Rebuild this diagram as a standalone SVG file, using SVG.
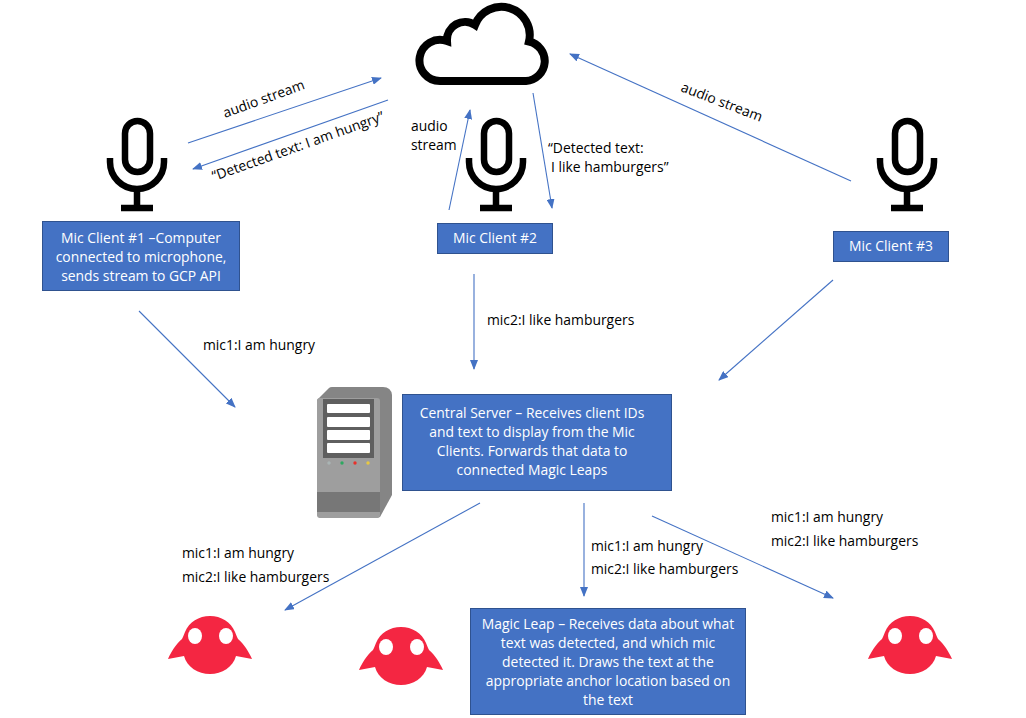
<svg xmlns="http://www.w3.org/2000/svg" xmlns:xlink="http://www.w3.org/1999/xlink" width="1026" height="718" viewBox="0 0 1026 718">
<style>
text{font-family:"Open Sans","Noto Sans","Liberation Sans",sans-serif;font-size:13.9px;fill:#000}
.w text,text.w{fill:#fff;text-anchor:middle}
.box{fill:#4472C4;stroke:#2F528F;stroke-width:1}
.c line{stroke:#4472C4;stroke-width:1.1;marker-end:url(#a)}
.mic path{fill:none;stroke:#000;stroke-width:6.500}
.robot{fill:#F42642}
.eye{fill:#fff}
</style>
<defs>
<marker id="a" markerUnits="userSpaceOnUse" markerWidth="10" markerHeight="8" refX="9" refY="4" orient="auto"><path d="M0 0L10 4L0 8Z" fill="#4472C4"/></marker>
<g id="micG" class="mic"><rect x="125" y="121" width="25" height="51" rx="12.5" fill="none" stroke="#000" stroke-width="6.500"/><path d="M110 158v4a27 27 0 0 0 54 0v-4M137 189v19M121 208h32"/></g>
<g id="robotG"><path class="robot" d="M210 616c11 0 21 6 25 16c2 5 3 7 3 7c6 5 11 13 14 20l-16 -3c-3 11-14 18-26 18s-23-7-26-18l-16 3c3-7 8-15 14-20c0 0 1-2 3-7c4-10 14-16 25-16Z"/><ellipse class="eye" cx="195" cy="636" rx="7" ry="8"/><ellipse class="eye" cx="226" cy="636" rx="7" ry="8"/></g>
</defs>
<rect width="1026" height="718" fill="#fff"/>
<g id="connectors" class="c">
<line x1="188" y1="143" x2="381" y2="78"/>
<line x1="388" y1="100" x2="193" y2="169"/>
<line x1="449" y1="210" x2="470" y2="110"/>
<line x1="533" y1="93" x2="552" y2="208"/>
<line x1="851" y1="181" x2="570" y2="54"/>
<line x1="139" y1="311" x2="235" y2="407"/>
<line x1="474" y1="274" x2="474" y2="369"/>
<line x1="833" y1="280" x2="719" y2="380"/>
<line x1="480" y1="503" x2="285" y2="610"/>
<line x1="584" y1="503" x2="584" y2="596"/>
<line x1="652" y1="516" x2="833" y2="598"/>
</g>
<g id="cloud"><path d="M440 81H526A20 20 0 0 0 529 41.500A28.300 28.300 0 0 0 475 25A18 18 0 0 0 447 41A20.600 20.600 0 1 0 440 81Z" fill="none" stroke="#000" stroke-width="8" stroke-linejoin="miter"/></g>
<g id="mic1-icon"><use xlink:href="#micG" href="#micG"/></g>
<g id="mic2-icon"><use xlink:href="#micG" href="#micG" x="359"/></g>
<g id="mic3-icon"><use xlink:href="#micG" href="#micG" x="770"/></g>
<g id="mic1" class="w"><rect class="box" x="42.500" y="221.500" width="197" height="69"/><text x="141" y="243">Mic Client #1 –Computer</text><text x="141" y="262">connected to microphone,</text><text x="141" y="281">sends stream to GCP API</text></g>
<g id="mic2" class="w"><rect class="box" x="437.500" y="223.500" width="115" height="30"/><text x="495" y="243">Mic Client #2</text></g>
<g id="mic3" class="w"><rect class="box" x="833.500" y="231.500" width="115" height="30"/><text x="891" y="251">Mic Client #3</text></g>
<g id="server-icon">
<path d="M317 400L329 388Q330 387 332 387H383Q391 387 392 395V495L380 517L376 518H320L317 515Z" fill="#858585"/>
<rect x="317" y="398" width="63" height="120" rx="3" fill="#9E9E9E"/>
<rect x="323" y="399" width="51" height="59" fill="#5F5F5F"/>
<rect x="327" y="404" width="43" height="9" rx="1" fill="#fff"/><rect x="327" y="417" width="43" height="10" rx="1" fill="#fff"/><rect x="327" y="430" width="43" height="10" rx="1" fill="#fff"/><rect x="327" y="443" width="43" height="10" rx="1" fill="#fff"/>
<circle cx="329" cy="463" r="1.700" fill="#A9B4B4"/><circle cx="342" cy="463" r="1.700" fill="#2DA860"/><circle cx="355" cy="463" r="1.700" fill="#E8302A"/><circle cx="368" cy="463" r="1.700" fill="#E8C840"/>
<rect x="317" y="492" width="63" height="20" fill="#777"/>
</g>
<g id="server" class="w"><rect class="box" x="402.500" y="394.500" width="269" height="96"/><text x="532" y="418">Central Server – Receives client IDs</text><text x="532" y="437">and text to display from the Mic</text><text x="532" y="456">Clients. Forwards that data to</text><text x="532" y="475">connected Magic Leaps</text></g>
<g id="leap1"><use xlink:href="#robotG" href="#robotG"/></g>
<g id="leap2"><use xlink:href="#robotG" href="#robotG" x="191" y="11"/></g>
<g id="leap3"><use xlink:href="#robotG" href="#robotG" x="700"/></g>
<g id="leap" class="w"><rect class="box" x="470.500" y="608.500" width="275" height="106"/><text x="608" y="629">Magic Leap – Receives data about what</text><text x="608" y="648">text was detected, and which mic</text><text x="608" y="667">detected it. Draws the text at the</text><text x="608" y="686">appropriate anchor location based on</text><text x="608" y="705">the text</text></g>
<g id="labels">
<text transform="translate(225 118) rotate(-20)">audio stream</text>
<text transform="translate(214 181) rotate(-19.500)">“Detected text: I am hungry”</text>
<text x="411" y="131">audio</text><text x="411" y="150">stream</text>
<text x="548" y="153">“Detected text:</text><text x="551" y="172">I like hamburgers”</text>
<text transform="translate(680 91) rotate(21)">audio stream</text>
<text x="203" y="350">mic1:I am hungry</text>
<text x="487" y="325">mic2:I like hamburgers</text>
<text x="182" y="558">mic1:I am hungry</text><text x="182" y="582">mic2:I like hamburgers</text>
<text x="591" y="551">mic1:I am hungry</text><text x="591" y="574">mic2:I like hamburgers</text>
<text x="771" y="522">mic1:I am hungry</text><text x="771" y="546">mic2:I like hamburgers</text>
</g>
</svg>
